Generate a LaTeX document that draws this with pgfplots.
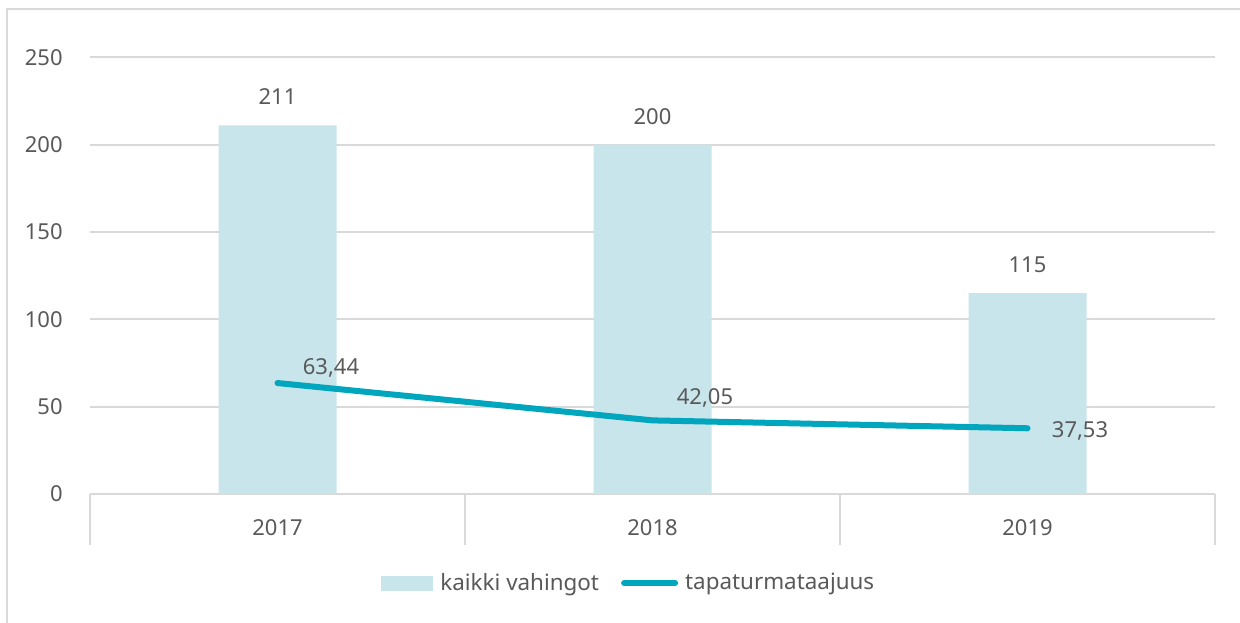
\documentclass[border=0pt]{standalone}
\usepackage{pgfplots}
\pgfplotsset{compat=1.18}
\usepackage{fontspec}
\setmainfont{Noto Sans}
\definecolor{txtgray}{HTML}{595959}
\definecolor{gridgray}{HTML}{D9D9D9}
\definecolor{barcol}{HTML}{C8E5EB}
\definecolor{linecol}{HTML}{00A5BE}
\begin{document}
\begin{tikzpicture}
\useasboundingbox (0,0) rectangle (620pt,311pt);
\draw[gridgray, line width=1pt] (3.5pt,-2pt) -- (3.5pt,306.5pt) -- (625pt,306.5pt);
\begin{axis}[
  at={(45pt,64.1pt)}, anchor=south west,
  scale only axis, width=562.5pt, height=218.25pt,
  xmin=-0.5, xmax=2.5, ymin=0, ymax=250,
  clip=false,
  font=\fontsize{11pt}{13pt}\selectfont,
  /pgf/number format/assume math mode=true,
  axis x line*=bottom, axis y line*=left,
  x axis line style={draw=gridgray, line width=1pt, -},
  y axis line style={draw=none},
  ytick={0,50,...,250},
  ymajorgrids, grid style={draw=gridgray, line width=1pt},
  xtick={0,1,2}, xticklabels={2017,2018,2019},
  major tick length=0pt,
  tick style={draw=none},
  extra x ticks={-0.5,0.5,1.5,2.5},
  extra x tick labels={},
  extra x tick style={major tick length=25.5pt, tick align=outside,
     tick style={draw=gridgray, line width=1pt}},
  yticklabel style={text=txtgray, anchor=east, inner sep=0pt, xshift=-13.5pt},
  xticklabel style={text=txtgray, anchor=base, inner sep=0pt, yshift=-20.95pt},
  legend columns=2,
  legend style={draw=none, fill=none, inner sep=0pt, at={(0.2587,-0.2044)}, anchor=west,
     font=\fontsize{11.2pt}{13pt}\selectfont, text=txtgray,
     /tikz/every odd column/.append style={column sep=1.5pt},
     /tikz/every even column/.append style={column sep=9pt}},
]
\addplot[ybar, bar width=59pt, fill=barcol, draw=none,
  nodes near coords, nodes near coords style={text=txtgray, anchor=base, inner sep=0pt, yshift=10.3pt},
  legend image code/.code={\fill[barcol] (0pt,-3.75pt) rectangle (26pt,3.75pt);}]
  coordinates {(0,211) (1,200) (2,115)};
\addlegendentry{kaikki vahingot}
\addplot[sharp plot, linecol, line width=3pt, line cap=round, line join=round, mark=none,
  legend image code/.code={\draw[linecol, line width=3pt, line cap=round] (1.5pt,0pt) -- (27pt,0pt);}]
  coordinates {(0,63.44) (1,42.05) (2,37.53)};
\addlegendentry{tapaturmataajuus}
\addplot[draw=none, mark=none, forget plot, nodes near coords={\pgfmathprintnumber[fixed, fixed zerofill, precision=2, use comma, assume math mode=true]{\pgfplotspointmeta}},
  nodes near coords style={text=txtgray, anchor=base west, inner sep=0pt, xshift=12.5pt, yshift=4.07pt}]
  coordinates {(0,63.44)};
\addplot[draw=none, mark=none, forget plot, nodes near coords={\pgfmathprintnumber[fixed, fixed zerofill, precision=2, use comma, assume math mode=true]{\pgfplotspointmeta}},
  nodes near coords style={text=txtgray, anchor=base west, inner sep=0pt, xshift=12pt, yshift=8.07pt}]
  coordinates {(1,42.05)};
\addplot[draw=none, mark=none, forget plot, nodes near coords={\pgfmathprintnumber[fixed, fixed zerofill, precision=2, use comma, assume math mode=true]{\pgfplotspointmeta}},
  nodes near coords style={text=txtgray, anchor=base west, inner sep=0pt, xshift=12pt, yshift=-4.43pt}]
  coordinates {(2,37.53)};
\end{axis}
\end{tikzpicture}
\end{document}
